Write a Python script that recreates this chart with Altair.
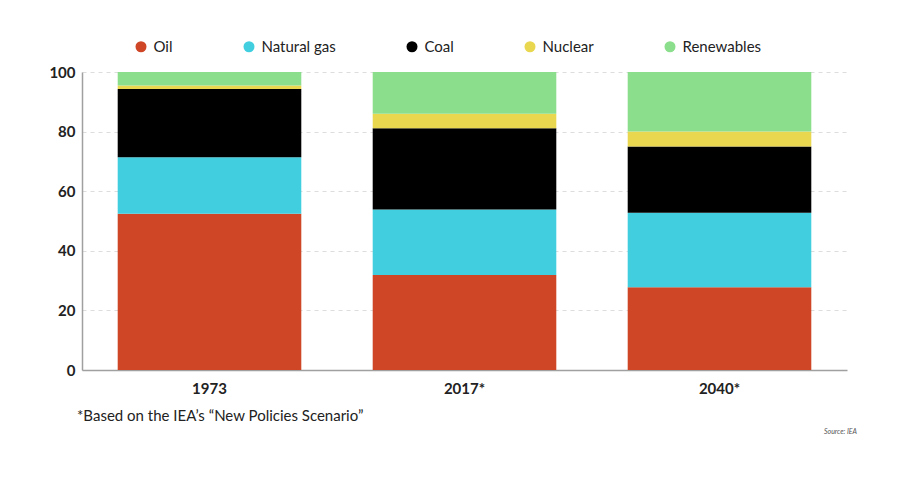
import altair as alt
import pandas as pd

years = ["1973", "2017*", "2040*"]
sources = ["Oil", "Natural gas", "Coal", "Nuclear", "Renewables"]
colors = ["#CE4626", "#41CFE0", "#000000", "#E9D74F", "#8BDE8B"]
oil = [52.4, 31.9, 27.8]
gas = [19.0, 22.0, 25.0]
coal = [22.9, 27.2, 22.2]
nuclear = [1.2, 4.9, 5.0]
renewables = [4.5, 14.0, 20.0]
y_ticks = [0, 20, 40, 60, 80, 100]
footnote = "*Based on the IEA\u2019s \u201cNew Policies Scenario\u201d"
source_note = "Source: IEA"

series = [oil, gas, coal, nuclear, renewables]
rows = []
for si, (name, vals) in enumerate(zip(sources, series)):
    for yi, yr in enumerate(years):
        rows.append({"year": yr, "source": name, "value": vals[yi], "order": si})
df = pd.DataFrame(rows)

bars = alt.Chart(df).mark_bar(strokeWidth=0).encode(
    x=alt.X("year:N", sort=years, title=None,
            scale=alt.Scale(paddingInner=0.28, paddingOuter=0.14),
            axis=alt.Axis(labelAngle=0, labelFont="Lato", labelFontSize=15,
                          labelFontWeight="bold", labelColor="#222222",
                          labelPadding=11, ticks=False, domainColor="#A0A0A0",
                          domainWidth=1.5, grid=False)),
    y=alt.Y("value:Q", stack="zero", title=None,
            scale=alt.Scale(domain=[0, 100], nice=False),
            axis=alt.Axis(values=y_ticks, labelFont="Lato", labelFontSize=15,
                          labelFontWeight="bold", labelColor="#222222",
                          labelPadding=7, ticks=False, domainColor="#A0A0A0",
                          domainWidth=1.5, grid=True, gridColor="#DDDDDD",
                          gridDash=[4, 4], gridWidth=1)),
    color=alt.Color("source:N", scale=alt.Scale(domain=sources, range=colors),
                    legend=alt.Legend(title=None, orient="none", direction="horizontal",
                                      legendX=51.5, legendY=-33,
                                      symbolType="circle", symbolSize=121,
                                      symbolStrokeWidth=0, labelFont="Lato",
                                      labelFontSize=15, labelColor="#222222",
                                      labelOffset=5, columnPadding=68)),
    order=alt.Order("order:Q"),
)

fn = alt.Chart(pd.DataFrame({"t": [footnote]})).mark_text(
    align="left", baseline="alphabetic", font="Lato", fontSize=15, color="#222222"
).encode(text="t:N", x=alt.value(-5), y=alt.value(349))

src = alt.Chart(pd.DataFrame({"t": [source_note]})).mark_text(
    align="right", baseline="middle", font="Lato", fontSize=7, fontStyle="italic",
    color="#555555"
).encode(text="t:N", x=alt.value(775), y=alt.value(360))

chart = alt.layer(bars, fn, src).properties(
    width=765, height=298,
    autosize=alt.AutoSizeParams(type="none"),
    padding={"left": 74, "top": 64, "right": 45, "bottom": 100},
    background="white",
).configure_view(stroke=None)

chart.save("out.html", embed_options={"renderer": "svg", "actions": False})
